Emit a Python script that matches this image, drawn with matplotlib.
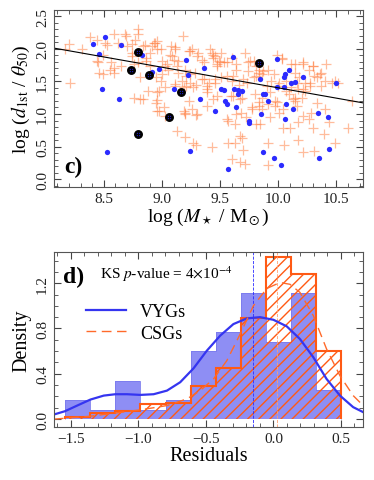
import matplotlib
matplotlib.use('Agg')
import matplotlib.pyplot as plt
from matplotlib.ticker import MultipleLocator

plt.rcParams['font.family'] = 'serif'
plt.rcParams['font.serif'] = ['Liberation Serif', 'DejaVu Serif']
plt.rcParams['mathtext.fontset'] = 'stix'

# ---- panel c: stellar mass vs first-neighbour distance ----
vyg_mass = [8.41, 8.51, 8.46, 8.65, 8.83, 8.48, 8.63, 8.53, 8.91, 8.97, 9.10, 9.21,
            9.22, 9.36, 9.24, 9.33, 9.46, 9.51, 9.53, 9.54, 9.56, 9.57, 9.62, 9.65,
            9.65, 9.64, 9.69, 9.61, 9.75, 9.75, 9.84, 9.85, 9.87, 9.89, 9.91, 9.99,
            9.87, 9.96, 9.99, 10.05, 10.05, 10.06, 10.07, 10.06, 10.09, 10.11, 10.14,
            10.13, 10.02, 10.21, 10.34, 10.43, 10.44, 10.35, 10.50]
vyg_d = [2.08, 2.18, 1.92, 2.05, 1.91, 1.39, 1.23, 0.42, 1.65, 1.69, 1.39, 1.83,
         1.60, 1.71, 0.43, 1.23, 1.04, 1.39, 1.36, 1.20, 1.15, 0.16, 1.39, 1.37,
         1.30, 1.11, 1.35, 1.88, 0.89, 0.86, 1.53, 1.00, 1.30, 1.31, 1.20, 1.84,
         0.41, 0.32, 1.42, 1.42, 1.56, 1.62, 1.15, 0.92, 1.67, 1.48, 1.49, 1.08,
         0.22, 1.57, 1.02, 0.96, 0.46, 0.33, 1.47]
hl_mass = [8.79, 8.73, 8.89, 9.16, 9.06, 8.79, 9.83]
hl_d = [1.95, 1.68, 1.60, 1.33, 0.96, 0.70, 1.78]

csg_mass = [8.17, 8.20, 8.21, 8.31, 8.38, 8.44, 8.51, 8.53, 8.45, 8.49, 8.59, 8.62,
            8.68, 8.69, 8.74, 8.79, 8.79, 8.85, 8.91, 8.93, 8.96, 8.90, 8.86, 8.79,
            8.76, 8.74, 8.65, 8.56, 8.55, 8.59, 8.49, 8.46, 8.88, 8.76, 8.81, 8.96,
            8.44, 8.59, 8.70, 8.77, 8.74, 8.84, 8.86, 8.90, 8.95, 8.81, 8.94, 8.99,
            9.00, 9.03, 9.09, 9.11, 9.13, 9.21, 9.24, 9.30, 9.36, 9.44, 9.47, 9.53,
            9.56, 9.24, 8.84, 8.96, 9.03, 9.11, 9.19, 9.27, 9.39, 8.96, 9.03, 9.20,
            9.26, 9.30, 8.96, 9.18, 9.08, 9.11, 9.07, 9.04, 9.10, 9.14, 9.23, 9.26,
            9.31, 9.34, 9.41, 9.43, 9.46, 9.49, 9.47, 9.51, 9.56, 9.60, 9.64, 9.71,
            9.74, 9.79, 9.81, 9.83, 9.00, 9.05, 9.14, 9.20, 9.24, 9.28, 9.34, 9.40,
            9.46, 9.51, 9.60, 9.66, 9.73, 9.79, 8.97, 8.99, 9.11, 9.17, 9.21, 9.29,
            9.39, 9.47, 9.61, 9.69, 9.80, 9.23, 9.44, 9.50, 9.64, 9.76, 9.99, 10.03,
            10.11, 10.21, 10.30, 10.41, 10.49, 10.51, 10.63, 9.36, 9.39, 9.46, 9.61,
            9.70, 9.74, 9.81, 9.87, 9.90, 10.01, 10.07, 10.16, 10.21, 10.27, 10.31,
            10.36, 10.37, 9.59, 9.67, 9.83, 9.77, 9.99, 10.13, 10.04, 9.39, 9.44,
            10.03, 10.14, 10.21, 10.26, 10.30, 10.37, 10.33, 10.46, 10.40, 10.14,
            10.18, 10.23, 10.27, 9.83, 9.86, 9.91, 9.96, 9.94, 10.00, 10.07, 10.11,
            10.17, 10.23, 10.09, 10.14, 10.20, 9.86, 9.93, 9.97, 8.97, 9.02, 9.19,
            9.20, 9.29, 9.13, 9.20, 9.27, 9.29, 9.43, 9.56, 9.57, 9.64, 9.68, 9.72,
            9.63, 9.67, 9.69, 9.57, 9.63, 9.70, 9.60, 9.67, 9.71, 9.77, 9.81, 9.83,
            9.86, 9.84, 9.91, 9.93, 9.97, 10.01, 10.04, 10.10, 10.14, 10.16, 10.17,
            10.21, 10.26, 10.28, 10.30, 10.33, 10.39, 10.44, 10.49, 10.60, 9.91,
            10.05, 10.17, 10.21, 10.31, 9.91, 10.40, 8.95]
csg_d = [1.99, 2.08, 1.48, 1.99, 2.18, 2.14, 2.09, 2.06, 1.80, 1.91, 2.23, 2.09,
         2.22, 2.20, 2.08, 2.31, 2.22, 2.05, 2.04, 2.09, 1.99, 1.94, 1.81, 1.80,
         1.76, 1.89, 1.74, 1.80, 1.68, 1.63, 1.61, 1.63, 1.35, 1.24, 1.23, 1.21,
         1.81, 1.71, 2.04, 2.14, 1.94, 2.04, 1.86, 1.73, 1.56, 1.56, 2.09, 1.99,
         1.81, 1.73, 1.89, 2.02, 1.73, 1.58, 1.96, 1.89, 1.79, 1.86, 1.73, 1.79,
         1.58, 1.48, 1.23, 1.33, 1.41, 1.46, 1.41, 1.41, 1.43, 1.05, 0.97, 1.02,
         1.07, 1.00, 2.12, 2.19, 2.04, 1.99, 1.91, 1.76, 1.83, 1.81, 1.96, 1.99,
         1.94, 1.83, 1.99, 1.94, 1.89, 1.81, 1.76, 1.94, 1.79, 1.86, 1.68, 1.94,
         1.79, 1.81, 1.74, 1.63, 1.61, 1.68, 1.63, 1.68, 1.61, 1.63, 1.53, 1.48,
         1.53, 1.56, 1.51, 1.45, 1.48, 1.56, 1.35, 1.51, 1.43, 1.51, 1.43, 1.45,
         1.33, 1.28, 1.28, 1.24, 1.30, 1.20, 1.91, 1.79, 1.76, 1.81, 1.91, 1.84,
         1.76, 1.79, 1.73, 1.76, 1.51, 1.48, 1.20, 1.53, 1.38, 1.48, 1.58,
         1.53, 1.66, 1.58, 1.66, 1.43, 1.48, 1.35, 1.48, 1.38, 1.48, 1.58,
         1.61, 1.43, 1.28, 1.23, 1.12, 1.10, 1.18, 1.23, 1.07, 1.12, 1.23,
         1.86, 1.76, 1.76, 1.68, 1.74, 1.63, 1.57, 1.48, 1.51, 1.63,
         1.56, 1.48, 1.43, 1.68, 1.61, 1.68, 1.61, 1.51, 1.43, 1.51, 1.41,
         1.39, 1.35, 1.30, 1.24, 1.24, 1.25, 1.33, 1.20, 1.05, 1.11, 1.05,
         1.00, 0.98, 0.74, 0.64, 0.55, 0.53, 0.49, 0.92, 0.90, 1.00, 1.01, 0.95,
         0.84, 0.67, 0.63, 0.56, 0.56, 0.45, 0.31, 0.26, 0.23, 1.08, 0.84, 1.18,
         1.07, 0.84, 1.15, 0.95, 1.12, 1.02, 0.78, 0.79, 1.20, 1.12, 0.87,
         0.97, 0.92, 1.02, 0.79, 1.17, 0.69, 0.87, 0.56, 0.79, 0.56,
         0.52, 0.60, 0.41, 0.44, 0.22, 1.07, 1.17]

fit_mass = [8.07, 10.73]
fit_d = [2.01, 1.17]

# ---- panel d: residual distributions ----
bin_edges = [-1.544, -1.356, -1.170, -0.985, -0.797, -0.611, -0.426, -0.241,
             -0.057, 0.128, 0.313, 0.498]
vyg_dens = [0.17, 0.085, 0.34, 0.085, 0.17, 0.60, 0.77, 1.11, 0.68, 1.11, 0.26]
csg_dens = [0.018, 0.055, 0.075, 0.13, 0.14, 0.29, 0.45, 0.895, 1.435, 1.285, 0.605]

kde_x = [-1.626, -1.544, -1.453, -1.355, -1.256, -1.17, -1.084, -0.985, -0.887,
         -0.788, -0.69, -0.591, -0.493, -0.394, -0.296, -0.197, -0.099, 0.0,
         0.099, 0.197, 0.296, 0.394, 0.493, 0.591, 0.665]
vyg_kde = [0.041, 0.07, 0.12, 0.173, 0.208, 0.22, 0.22, 0.214, 0.22, 0.252, 0.326,
           0.449, 0.604, 0.737, 0.839, 0.889, 0.90, 0.877, 0.819, 0.707, 0.546,
           0.355, 0.208, 0.106, 0.062]
csg_kde_x = [-1.626, -1.355, -1.158, -0.985, -0.788, -0.64, -0.542, -0.443, -0.345,
             -0.246, -0.148, -0.049, 0.049, 0.123, 0.197, 0.296, 0.394, 0.493,
             0.591, 0.665]
csg_kde = [0.0, 0.026, 0.056, 0.082, 0.12, 0.179, 0.252, 0.355, 0.516, 0.751, 1.0,
           1.153, 1.206, 1.19, 1.118, 0.913, 0.619, 0.384, 0.208, 0.12]
vyg_median = -0.148
csg_median = 0.03

blue = '#2b2bff'
orange = '#ff5a14'
tick_col = '#444444'

fig = plt.figure(figsize=(3.74, 4.81), dpi=100)
ax1 = fig.add_axes([0.144, 0.609, 0.827, 0.369])
ax2 = fig.add_axes([0.144, 0.110, 0.827, 0.364])

ax1.plot(csg_mass, csg_d, '+', color='#ff7a3a', alpha=0.5, ms=6.5, mew=0.9)
ax1.plot(vyg_mass, vyg_d, 'o', color=blue, ms=3.8, mew=0)
ax1.plot(hl_mass, hl_d, 'o', mfc='black', mec='black', ms=5.4)
ax1.plot(hl_mass, hl_d, 'o', color='#1c1cb0', ms=2.8, mew=0)
ax1.plot(hl_mass, hl_d, '+', color='black', ms=4.2, mew=0.7)
ax1.plot(fit_mass, fit_d, color='black', lw=0.8)
ax1.set_xlim(8.07, 10.73)
ax1.set_ylim(-0.12, 2.6)
ax1.set_xlabel(r'log ($M_\star$ / M$_\odot$)', fontsize=14, labelpad=1)
ax1.set_ylabel(r'log ($d_{\rm 1st}$ / $\theta_{50}$)', fontsize=14, labelpad=3)
ax1.xaxis.set_major_locator(MultipleLocator(0.5))
ax1.xaxis.set_minor_locator(MultipleLocator(0.1))
ax1.yaxis.set_major_locator(MultipleLocator(0.5))
ax1.yaxis.set_minor_locator(MultipleLocator(0.1))
ax1.text(0.035, 0.085, 'c)', transform=ax1.transAxes, fontsize=17, fontweight='bold')

ax2.stairs(vyg_dens, bin_edges, fill=True, color='#8e8ef4')
ax2.stairs(vyg_dens, bin_edges, color='#7a7aee', lw=0.6)
ax2.stairs(csg_dens, bin_edges, fill=True, facecolor='none', edgecolor=orange,
           hatch='///', lw=0)
ax2.stairs(csg_dens, bin_edges, color=orange, lw=1.5)
ax2.axvline(vyg_median, color=blue, ls='--', lw=0.6)
ax2.axvline(csg_median, color='#ffa070', ls='--', lw=0.6)
ax2.plot(kde_x, vyg_kde, color='#3535f0', lw=1.6, label='VYGs')
ax2.plot(csg_kde_x, csg_kde, color='#ff6a2a', lw=1.0, ls=(0, (7, 4)), label='CSGs')
ax2.set_xlim(-1.626, 0.665)
ax2.set_ylim(-0.07, 1.475)
ax2.set_xlabel('Residuals', fontsize=14.5, labelpad=1)
ax2.set_ylabel('Density', fontsize=14.5, labelpad=3)
ax2.xaxis.set_major_locator(MultipleLocator(0.5))
ax2.xaxis.set_minor_locator(MultipleLocator(0.1))
ax2.yaxis.set_major_locator(MultipleLocator(0.4))
ax2.yaxis.set_minor_locator(MultipleLocator(0.1))
ax2.text(0.03, 0.83, 'd)', transform=ax2.transAxes, fontsize=17, fontweight='bold')
ax2.text(0.15, 0.85, r'KS $p$-value = 4$\times$10$^{-4}$', transform=ax2.transAxes,
         fontsize=11)
ax2.legend(loc='upper left', bbox_to_anchor=(0.08, 0.75), frameon=False, fontsize=13,
           handlelength=2.2, labelspacing=0.25, borderaxespad=0)

for ax in (ax1, ax2):
    ax.tick_params(which='both', direction='in', top=True, right=True, color=tick_col,
                   labelcolor='#222222', labelsize=11)
    ax.tick_params(which='major', length=5, width=0.8)
    ax.tick_params(which='minor', length=3, width=0.6)
    for lab in ax.get_yticklabels():
        lab.set_rotation(90)
        lab.set_va('center')
    for s in ax.spines.values():
        s.set_color('#555555')
        s.set_linewidth(0.8)

fig.savefig('out.png', dpi=100)
